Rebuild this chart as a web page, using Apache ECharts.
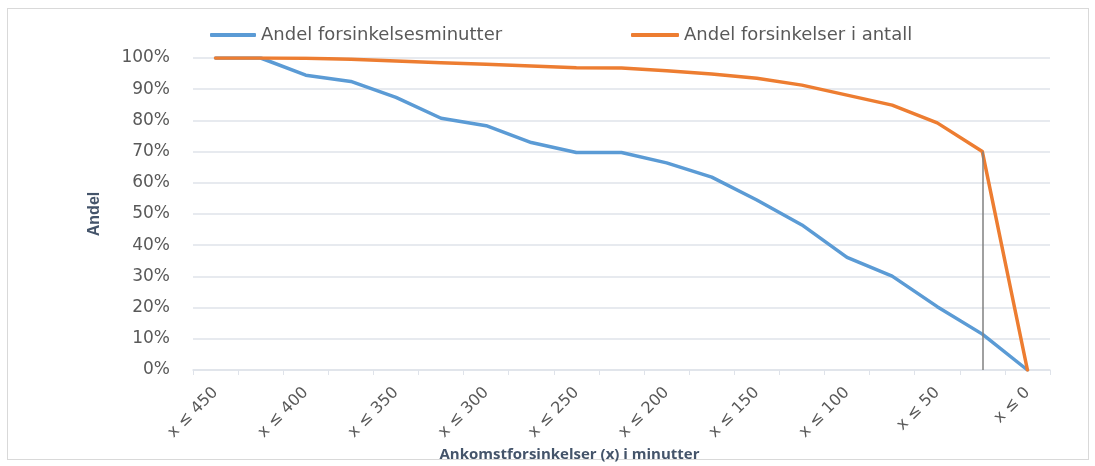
<!DOCTYPE html>
<html>
<head>
<meta charset="utf-8">
<script src="https://cdn.jsdelivr.net/npm/echarts@6/dist/echarts.min.js"></script>
<style>
  html, body { margin: 0; padding: 0; background: #fff; }
  #frame {
    position: absolute; left: 7px; top: 8px; width: 1082px; height: 452px;
    border: 1px solid #d9d9d9; box-sizing: border-box;
  }
  #chart { position: absolute; left: 0; top: 0; width: 1095px; height: 466px; }
</style>
</head>
<body>
<div id="frame"></div>
<div id="chart"></div>
<script>
// kategorier: ankomstforsinkelse
const categories = ['x ≤ 450', 'x ≤ 425', 'x ≤ 400', 'x ≤ 375', 'x ≤ 350', 'x ≤ 325', 'x ≤ 300',
  'x ≤ 275', 'x ≤ 250', 'x ≤ 225', 'x ≤ 200', 'x ≤ 175', 'x ≤ 150', 'x ≤ 125', 'x ≤ 100',
  'x ≤ 75', 'x ≤ 50', 'x ≤ 25', 'x ≤ 0']
// andel forsinkelsesminutter (%)
const minutterAndel = [100, 100, 94.5, 92.5, 87.4, 80.7, 78.3, 72.9, 69.7, 69.7, 66.4,
  61.8, 54.5, 46.5, 36.1, 30.1, 20.3, 11.5, 0]
// andel forsinkelser i antall (%)
const antallAndel = [100, 100, 99.9, 99.6, 99.0, 98.5, 98.0, 97.4, 96.9, 96.8, 95.9,
  94.9, 93.5, 91.3, 88.1, 84.9, 79.2, 70, 0]
// y-akse
const yTicks = [0, 10, 20, 30, 40, 50, 60, 70, 80, 90, 100]
// markert kategori (loddrett linje)
const markIndex = 17

const textColor = '#595959'
const gridColor = '#dfe3ea'
const legendText = {
  color: textColor,
  fontFamily: 'DejaVu Sans',
  fontSize: 18
}

let chart = echarts.init(document.getElementById('chart'))
chart.setOption({
  animation: false,
  legend: [
    {
      top: 21,
      left: 205,
      itemWidth: 46,
      itemHeight: 4,
      itemGap: 5,
      icon: 'roundRect',
      textStyle: legendText,
      data: ['Andel forsinkelsesminutter']
    },
    {
      top: 21,
      left: 626,
      itemWidth: 48,
      itemHeight: 4,
      icon: 'roundRect',
      textStyle: legendText,
      data: ['Andel forsinkelser i antall']
    }
  ],
  grid: {
    left: 193,
    right: 45,
    top: 58,
    bottom: 96,
    containLabel: false,
    outerBoundsMode: 'none'
  },
  xAxis: {
    type: 'category',
    data: categories,
    boundaryGap: true,
    name: 'Ankomstforsinkelser (x) i minutter',
    nameLocation: 'middle',
    nameGap: 71,
    nameTextStyle: {
      color: '#44546a',
      fontFamily: 'Open Sans',
      fontWeight: 'bold',
      fontSize: 15,
      padding: [0, 104, 0, 0]
    },
    axisLine: { lineStyle: { color: gridColor, width: 1.5 } },
    axisTick: { show: true, interval: 0, length: 5, lineStyle: { color: gridColor } },
    axisLabel: {
      interval: 1,
      rotate: 45,
      margin: 20,
      color: textColor,
      fontFamily: 'DejaVu Sans',
      fontSize: 16
    },
    splitLine: { show: false }
  },
  yAxis: {
    type: 'value',
    min: yTicks[0],
    max: yTicks[yTicks.length - 1],
    interval: 10,
    name: 'Andel',
    nameLocation: 'middle',
    nameRotate: 90,
    nameGap: 90,
    nameTextStyle: {
      color: '#44546a',
      fontFamily: 'Liberation Sans',
      fontWeight: 'bold',
      fontSize: 16
    },
    axisLine: { show: false },
    axisTick: { show: false },
    axisLabel: {
      margin: 23,
      color: textColor,
      fontFamily: 'DejaVu Sans',
      fontSize: 17,
      formatter: '{value}%'
    },
    splitLine: { lineStyle: { color: gridColor, width: 1.5 } }
  },
  series: [
    {
      name: 'Andel forsinkelsesminutter',
      type: 'line',
      data: minutterAndel,
      showSymbol: false,
      symbol: 'none',
      color: '#5b9bd5',
      lineStyle: { width: 3.5, color: '#5b9bd5', cap: 'round', join: 'round' },
      z: 2
    },
    {
      name: 'Andel forsinkelser i antall',
      type: 'line',
      data: antallAndel,
      showSymbol: false,
      symbol: 'none',
      color: '#ed7d31',
      lineStyle: { width: 3.5, color: '#ed7d31', cap: 'round', join: 'round' },
      z: 3,
      markLine: {
        silent: true,
        symbol: 'none',
        label: { show: false },
        lineStyle: { color: '#808080', width: 1.5, type: 'solid' },
        data: [[
          { coord: [categories[markIndex], 0] },
          { coord: [categories[markIndex], antallAndel[markIndex]] }
        ]]
      }
    }
  ]
})
</script>
</body>
</html>
